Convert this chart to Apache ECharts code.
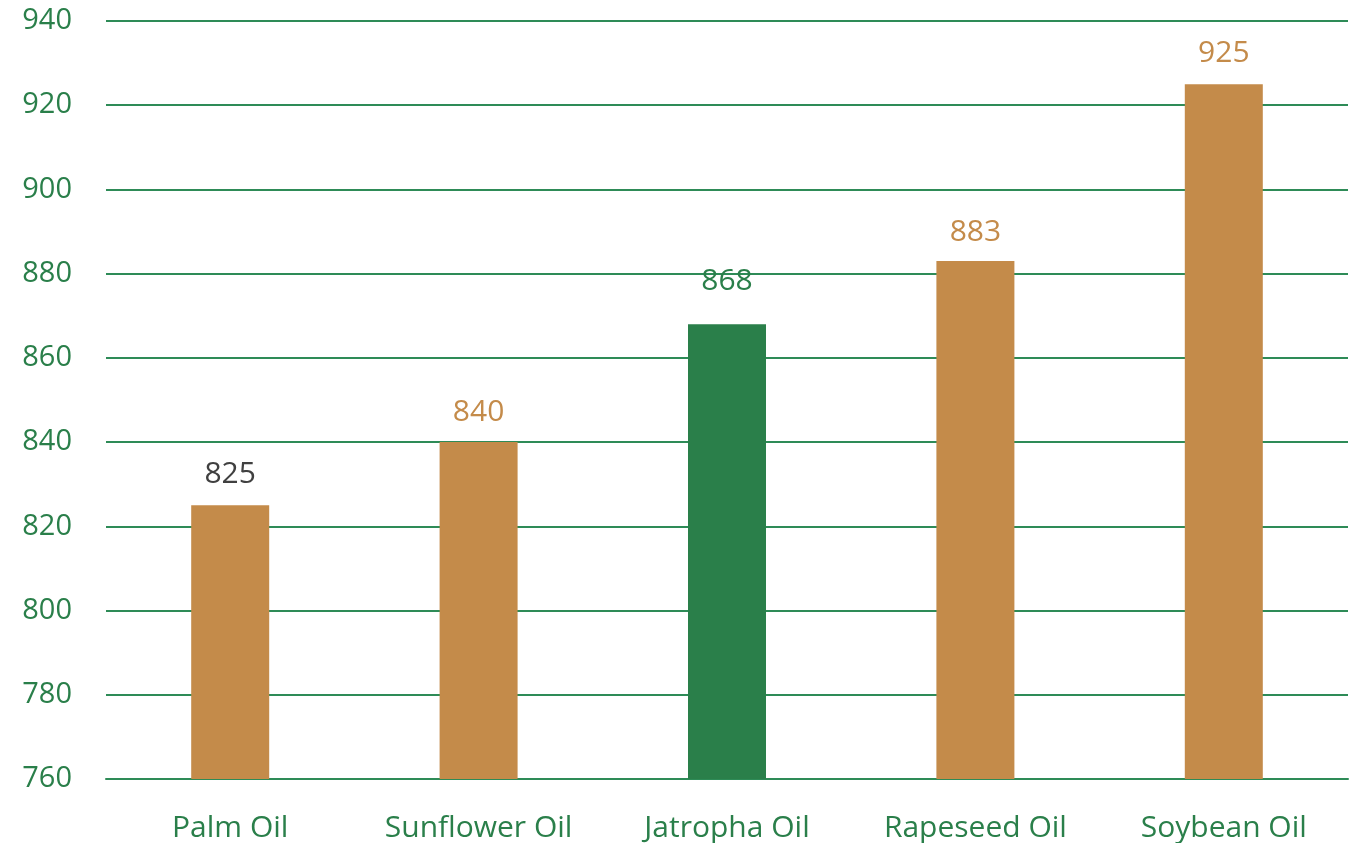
<!DOCTYPE html>
<html>
<head>
<meta charset="utf-8">
<script src="https://cdn.jsdelivr.net/npm/echarts@6/dist/echarts.min.js"></script>
<style>
html,body{margin:0;padding:0;background:#fff;}
#c{width:1355px;height:843px;}
</style>
</head>
<body>
<div id="c"></div>
<script>
const categories = ['Palm Oil', 'Sunflower Oil', 'Jatropha Oil', 'Rapeseed Oil', 'Soybean Oil'];
const values = [825, 840, 868, 883, 925];
const yTicks = [760, 780, 800, 820, 840, 860, 880, 900, 920, 940];

const BROWN = '#C48B4A';
const GREEN = '#2A7F4A';
const barColors = [BROWN, BROWN, GREEN, BROWN, BROWN];
const labelColors = ['#404040', BROWN, GREEN, BROWN, BROWN];
const labelDist = [16, 15, 28, 14, 16];

const chart = echarts.init(document.getElementById('c'));
chart.setOption({
  animation: false,
  grid: { left: 106, right: 7, top: 21, bottom: 64, containLabel: false },
  xAxis: {
    type: 'category',
    data: categories,
    axisLine: { show: true, lineStyle: { color: '#2E8B57', width: 2 } },
    axisTick: { show: false },
    axisLabel: { color: GREEN, fontSize: 30, fontFamily: 'Open Sans', margin: 34 }
  },
  yAxis: {
    type: 'value',
    min: yTicks[0],
    max: yTicks[yTicks.length - 1],
    interval: 20,
    axisLine: { show: false },
    axisTick: { show: false },
    splitLine: { lineStyle: { color: '#2E8B57', width: 2 } },
    axisLabel: { color: GREEN, fontSize: 29, fontFamily: 'Open Sans', margin: 34 }
  },
  series: [{
    type: 'bar',
    barWidth: 78,
    data: values.map((v, i) => ({
      value: v,
      itemStyle: { color: barColors[i] },
      label: { color: labelColors[i], distance: labelDist[i] }
    })),
    label: {
      show: true,
      position: 'top',
      fontSize: 30,
      fontFamily: 'Open Sans'
    }
  }]
});
</script>
</body>
</html>
